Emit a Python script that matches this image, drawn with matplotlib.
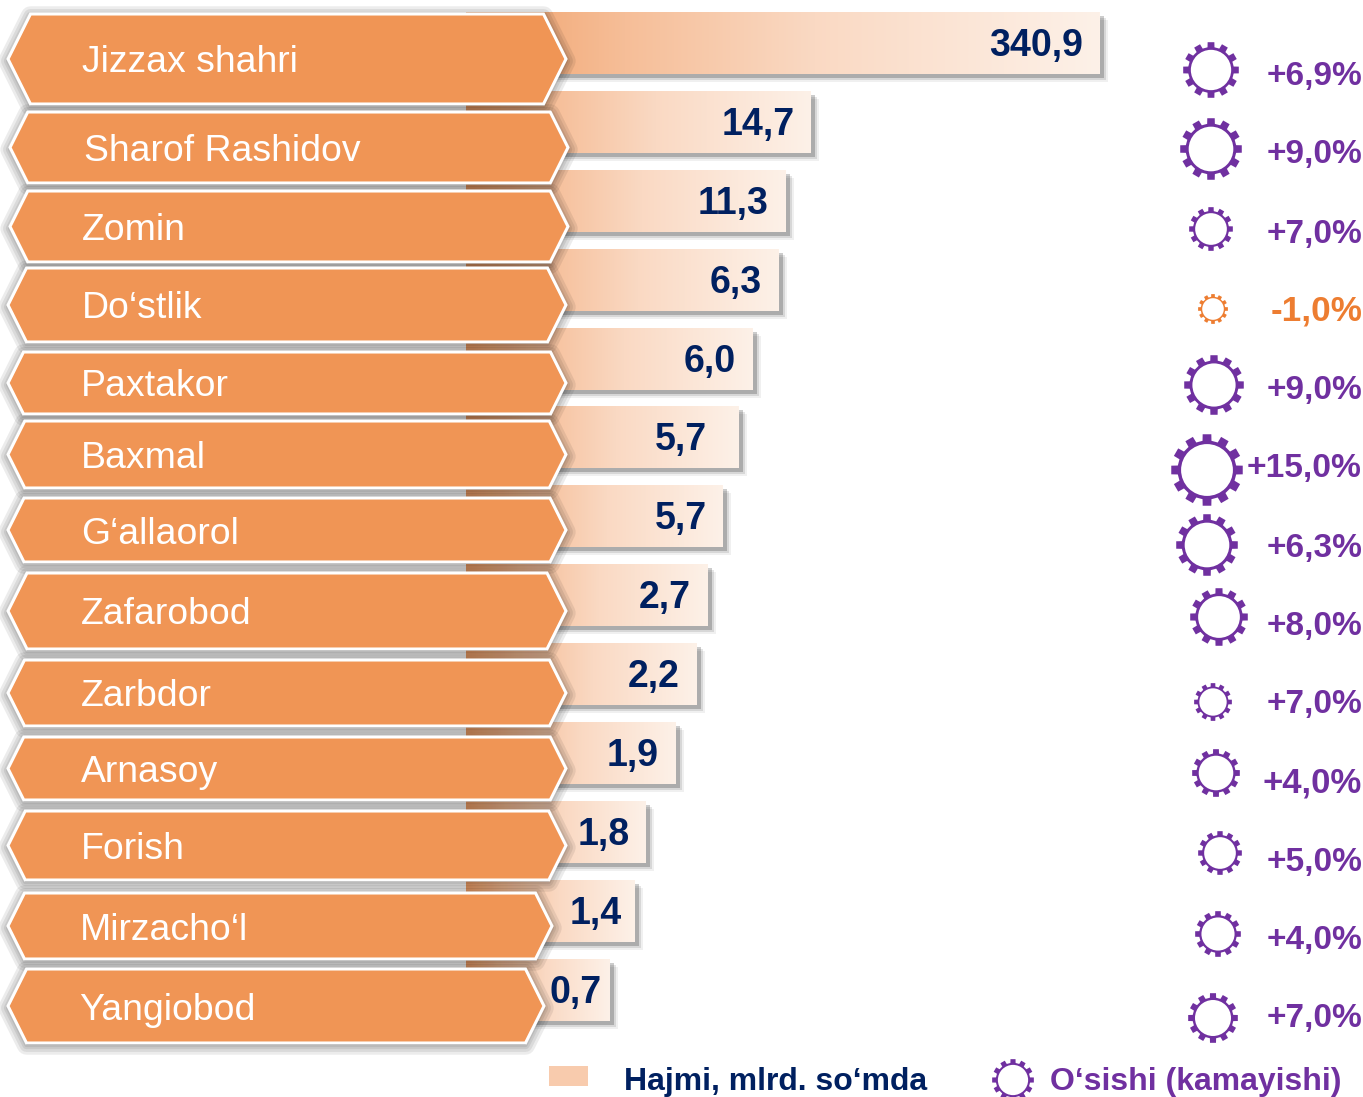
import numpy as np
import matplotlib
matplotlib.use("Agg")
import matplotlib.pyplot as plt
from matplotlib.patches import Polygon, Rectangle, Circle
from matplotlib.colors import LinearSegmentedColormap

plt.rcParams['font.family'] = ['Liberation Sans', 'DejaVu Sans']

# ---- data ----
districts = ["Jizzax shahri", "Sharof Rashidov", "Zomin", "Do‘stlik", "Paxtakor", "Baxmal",
             "G‘allaorol", "Zafarobod", "Zarbdor", "Arnasoy", "Forish", "Mirzacho‘l", "Yangiobod"]
value_labels = ["340,9", "14,7", "11,3", "6,3", "6,0", "5,7", "5,7", "2,7", "2,2", "1,9", "1,8", "1,4", "0,7"]
growth_labels = ["+6,9%", "+9,0%", "+7,0%", "-1,0%", "+9,0%", "+15,0%", "+6,3%", "+8,0%", "+7,0%",
                 "+4,0%", "+5,0%", "+4,0%", "+7,0%"]
growth_sizes = [24, 24, 24, 25.3, 24, 24.2, 24, 24, 24, 25, 24, 24, 24]
# The bars are not to scale with the values (the original axis is schematic): ends as drawn
bar_ends = [1100, 811, 786, 779, 753, 739, 723, 708, 697, 676, 646, 635, 610]
bar_tops = [12, 91, 170, 249, 328, 406, 485, 564, 643, 722, 801, 880, 959]
label_right = [1083, 795, 769, 762, 736, 707, 707, 691, 680, 659, 630, 622, 602]
hex_left = [8, 10, 10, 8, 8, 8, 8, 8, 8, 8, 8, 8, 8]
hex_right = [566, 568, 568, 566, 566, 566, 566, 566, 566, 566, 566, 552, 544]
hex_top = [14, 112, 191, 268, 352, 421, 498, 573, 660, 737, 811, 893, 969]
hex_bot = [104, 183, 262, 342, 414, 488, 562, 649, 726, 800, 880, 959, 1043]
name_x = [82, 84, 82, 82, 81, 81, 81, 81, 81, 81, 81, 80, 79]
gear_x = [1211, 1211, 1211, 1213, 1214, 1207, 1207, 1219, 1213, 1216, 1220, 1218, 1213]
gear_y = [70, 149, 229, 309, 385, 470, 545, 617, 702, 773, 853, 934, 1018]
gear_r = [28, 31, 22, 15, 30, 36, 31, 29, 19, 24, 22, 23, 25]
growth_y = [74, 153, 232, 309, 388, 467, 546, 625, 703, 781, 860, 939, 1017]
legend_labels = ["Hajmi, mlrd. so‘mda", "O‘sishi (kamayishi)"]

ORANGE = "#F09555"
NAVY = "#002060"
PURPLE = "#7030A0"
ACCENT = "#ED7D31"

W, H = 1363, 1097
fig = plt.figure(figsize=(W / 100, H / 100), dpi=100)
ax = fig.add_axes([0, 0, 1, 1])
ax.set_xlim(0, W)
ax.set_ylim(H, 0)
ax.axis("off")

cmap = LinearSegmentedColormap.from_list(
    "bar", [(0, "#F0A068"), (0.25, "#F6BE98"), (0.55, "#FAD9C3"), (1, "#FDF1E8")])
grad = np.linspace(0, 1, 256).reshape(1, -1)
BAR_START = 466
BAR_H = 62


def soft(poly_pts, z, widths, alpha):
    for w in widths:
        ax.add_patch(Polygon(poly_pts, closed=True, fc=(0, 0, 0, alpha), ec=(0, 0, 0, alpha),
                             lw=w, joinstyle="round", zorder=z))


# bars
for end, top, lab, rx in zip(bar_ends, bar_tops, value_labels, label_right):
    x0, x1, y0, y1 = BAR_START, end, top, top + BAR_H
    for off, al in ((8, 0.06), (6, 0.10), (4, 0.20)):
        rect = [(x0 + off, y0 + off), (x1 + off, y0 + off), (x1 + off, y1 + off), (x0 + off, y1 + off)]
        ax.add_patch(Polygon(rect, closed=True, fc=(0, 0, 0, al), ec="none", zorder=1))
    ax.imshow(grad, extent=(x0, x1, y1, y0), cmap=cmap, aspect="auto", zorder=2,
              interpolation="bilinear")
    ax.text(rx, top + 34, lab, ha="right", va="center", fontsize=27, fontweight="bold", color=NAVY, zorder=8)
ax.set_xlim(0, W)
ax.set_ylim(H, 0)

# hexagon shadows first so that they all fall on the bars, then the bodies
hexes = []
for l, r, t, b in zip(hex_left, hex_right, hex_top, hex_bot):
    inset = (b - t) * 0.25
    hexes.append([(l, (t + b) / 2), (l + inset, t), (r - inset, t), (r, (t + b) / 2), (r - inset, b), (l + inset, b)])
for pts in hexes:
    p = np.array(pts)
    soft(p + [0, 2], 3, [14, 10, 6, 3], 0.075)
for pts, name, nx, t, b in zip(hexes, districts, name_x, hex_top, hex_bot):
    ax.add_patch(Polygon(pts, closed=True, fc=ORANGE, ec="white", lw=2.2, joinstyle="miter", zorder=4))
    ax.text(nx, (t + b) / 2 + 4, name, ha="left", va="center", fontsize=26.9, color="white", zorder=5)


def gear(cx, cy, R, color, z=6):
    teeth = 12
    ring = R * 0.82
    pts = []
    half_base = np.pi / teeth * 0.58
    half_tip = np.pi / teeth * 0.46
    for i in range(teeth):
        a = -np.pi / 2 + 2 * np.pi * i / teeth
        for ang, rad in ((a - half_base, ring), (a - half_tip, R), (a + half_tip, R), (a + half_base, ring)):
            pts.append((cx + rad * np.cos(ang), cy + rad * np.sin(ang)))
    ax.add_patch(Polygon(pts, closed=True, fc=color, ec="none", zorder=z))
    ax.add_patch(Circle((cx, cy), R * 0.72, fc="white", ec="none", zorder=z + 1))


for gx, gy, gr, lab, ty, fs in zip(gear_x, gear_y, gear_r, growth_labels, growth_y, growth_sizes):
    col = ACCENT if lab.startswith("-") else PURPLE
    gear(gx, gy, gr, col)
    ax.text(1362, ty + 2, lab, ha="right", va="center", fontsize=fs, fontweight="bold", color=col, zorder=9)

# legend
ax.add_patch(Rectangle((549, 1066), 39, 20, fc="#F8CBAD", ec="none", zorder=3))
ax.text(624, 1082, legend_labels[0], ha="left", va="center", fontsize=23, fontweight="bold", color=NAVY)
gear(1013, 1080, 21, PURPLE)
ax.text(1050, 1082, legend_labels[1], ha="left", va="center", fontsize=23, fontweight="bold", color=PURPLE)

fig.savefig("out.png", dpi=100)
